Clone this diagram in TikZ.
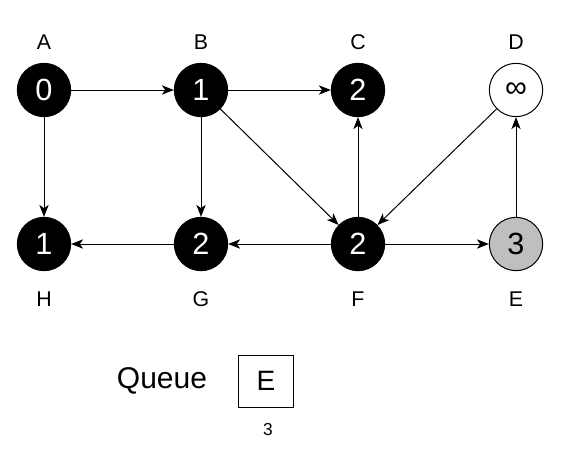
\documentclass[tikz,border=0pt]{standalone}
\usepackage{fontspec}
\setmainfont{Liberation Sans}
\usetikzlibrary{arrows.meta}

\begin{document}
\begin{tikzpicture}[x=0.75pt,y=0.75pt,yscale=-1,xscale=1,
	vtx/.style={circle,draw=black,line width=0.75pt,minimum size=40pt,inner sep=0pt,font=\fontsize{23}{26}\selectfont},
	done/.style={vtx,fill=black,text=white},
	open/.style={vtx,fill=white,text=black},
	front/.style={vtx,fill={rgb,255:red,191;green,191;blue,191},text=black},
	lbl/.style={inner sep=0.75pt,font=\fontsize{16}{19}\selectfont},
	edge/.style={line width=0.75pt,-{Stealth[length=9pt,width=7pt,inset=2.5pt]}}]
	\useasboundingbox (0,0) rectangle (580,461);
	% vertices
	\node [done]  (A) at (44,90)   {0};
	\node [done]  (B) at (201,90)  {1};
	\node [done]  (C) at (358,90)  {2};
	\node [open]  (D) at (516,90)  {∞};
	\node [done]  (H) at (44,244)  {1};
	\node [done]  (G) at (201,244) {2};
	\node [done]  (F) at (358,244) {2};
	\node [front] (E) at (516,244) {3};
	% names
	\node [lbl] (lA) at (44,42)   {A};
	\node [lbl] (lB) at (201,42)  {B};
	\node [lbl] (lC) at (358,42)  {C};
	\node [lbl] (lD) at (516,42)  {D};
	\node [lbl] (lH) at (44,299)  {H};
	\node [lbl] (lG) at (201,299) {G};
	\node [lbl] (lF) at (358,299) {F};
	\node [lbl] (lE) at (516,299) {E};
	% edges
	\draw [edge] (A) -- (B);
	\draw [edge] (A) -- (H);
	\draw [edge] (B) -- (C);
	\draw [edge] (B) -- (G);
	\draw [edge] (B) -- (F);
	\draw [edge] (F) -- (C);
	\draw [edge] (D) -- (F);
	\draw [edge] (F) -- (G);
	\draw [edge] (G) -- (H);
	\draw [edge] (F) -- (E);
	\draw [edge] (E) -- (D);
	% queue
	\node [inner sep=0.75pt,font=\fontsize{22.5}{26}\selectfont] (qtxt) at (162,381) {Queue};
	\node [draw,line width=0.75pt,minimum width=41pt,minimum height=39pt,inner sep=0pt,font=\fontsize{21}{24}\selectfont] (q1) at (266,381) {E};
	\node [inner sep=0.75pt,font=\fontsize{13}{15}\selectfont] (q1d) at (268,430) {3};
\end{tikzpicture}
\end{document}
